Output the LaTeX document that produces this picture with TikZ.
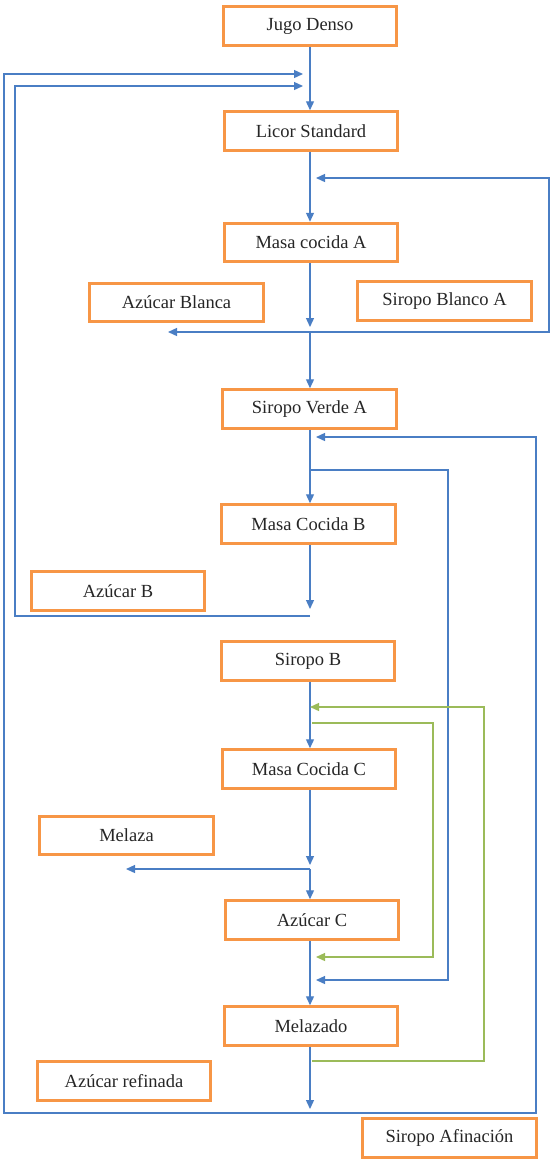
\documentclass[tikz,border=0pt]{standalone}
\usepackage{fontspec}
\setmainfont{Liberation Serif}
\usetikzlibrary{arrows.meta}
\definecolor{boxorange}{HTML}{F79646}
\definecolor{flowblue}{HTML}{4A7EC4}
\definecolor{flowgreen}{HTML}{9BBB59}
\definecolor{inkgray}{HTML}{262626}

\begin{document}
\begin{tikzpicture}[x=1pt,y=-1pt,
  proc/.style={draw=boxorange, line width=3pt, minimum width=173.5pt,
    minimum height=38.5pt, inner sep=0pt, text=inkgray,
    font=\fontsize{18.5}{20}\selectfont},
  flow/.style={draw=flowblue, line width=1.3pt,
    -{Triangle[length=9pt,width=8pt]}},
  gflow/.style={draw=flowgreen, line width=1.3pt,
    -{Triangle[length=9pt,width=8pt]}},
]
\useasboundingbox (0,0) rectangle (550,1160);

% process boxes
\node[proc] (jugo)      at (310,26)    {Jugo Denso};
\node[proc] (licor)     at (311,131)   {Licor Standard};
\node[proc] (masaA)     at (311,242.5) {Masa cocida A};
\node[proc] (azBlanca)  at (176.5,302.5) {Azúcar Blanca};
\node[proc] (sirBlanco) at (444.5,301) {Siropo Blanco A};
\node[proc] (sirVerde)  at (309.5,409) {Siropo Verde A};
\node[proc] (masaB)     at (308.5,524) {Masa Cocida B};
\node[proc] (azB)       at (118,591)   {Azúcar B};
\node[proc] (sirB)      at (308,661)   {Siropo B};
\node[proc] (masaC)     at (309,769)   {Masa Cocida C};
\node[proc] (melaza)    at (126.5,835.5) {Melaza};
\node[proc] (azC)       at (312,920)   {Azúcar C};
\node[proc] (melazado)  at (311,1026)  {Melazado};
\node[proc] (azRef)     at (124,1081)  {Azúcar refinada};
\node[proc] (sirAf)     at (449.5,1138) {Siropo Afinación};

% main vertical spine and junctions
\coordinate (sx)       at (310,0);
\coordinate (retA)     at (303,74);
\coordinate (retB)     at (303,86);
\coordinate (intoA)    at (316,178);
\coordinate (tipA)     at (310,327);
\coordinate (jA)       at (310,332);
\coordinate (toBlanca) at (168,332);
\coordinate (rightA)   at (549,332);
\coordinate (intoV)    at (316,437);
\coordinate (jB)       at (310,470);
\coordinate (colB)     at (448,470);
\coordinate (tipB)     at (310,609);
\coordinate (jAzB)     at (310,616);
\coordinate (innerL)   at (15,616);
\coordinate (gIntoB)   at (310,707);
\coordinate (gOut)     at (312,723);
\coordinate (gCol)     at (433,723);
\coordinate (tipC)     at (310,865);
\coordinate (jC)       at (310,869);
\coordinate (toMelaza) at (126,869);
\coordinate (gInC)     at (316,957);
\coordinate (intoC)    at (316,980);
\coordinate (gStart)   at (312,1061);
\coordinate (gRight)   at (484,1061);
\coordinate (tipD)     at (310,1109);
\coordinate (jD)       at (310,1113);
\coordinate (outerL)   at (4,1113);
\coordinate (outerR)   at (536,1113);

% main product line
\draw[flow] (jugo.south -| sx) -- (licor.north -| sx);
\draw[flow] (licor.south -| sx) -- (masaA.north -| sx);
\draw[flow] (masaA.south -| sx) -- (tipA);
\draw[flow] (jA) -- (toBlanca);
\draw[flow] (jA) -- (rightA) |- (intoA);
\draw[flow] (jA) -- (sirVerde.north -| sx);
\draw[flow] (sirVerde.south -| sx) -- (masaB.north -| sx);
\draw[flow] (jB) -- (colB) |- (intoC);
\draw[flow] (masaB.south -| sx) -- (tipB);
\draw[flow] (jAzB) -- (innerL) |- (retB);
\draw[flow] (sirB.south -| sx) -- (masaC.north -| sx);
\draw[flow] (masaC.south -| sx) -- (tipC);
\draw[flow] (jC) -- (toMelaza);
\draw[flow] (jC) -- (azC.north -| sx);
\draw[flow] (azC.south -| sx) -- (melazado.north -| sx);
\draw[flow] (melazado.south -| sx) -- (tipD);
\draw[flow] (jD) -- (outerL) |- (retA);
\draw[flow] (jD) -- (outerR) |- (intoV);

% green recycle loops
\draw[gflow] (gOut) -- (gCol) |- (gInC);
\draw[gflow] (gStart) -- (gRight) |- (gIntoB);
\end{tikzpicture}
\end{document}
